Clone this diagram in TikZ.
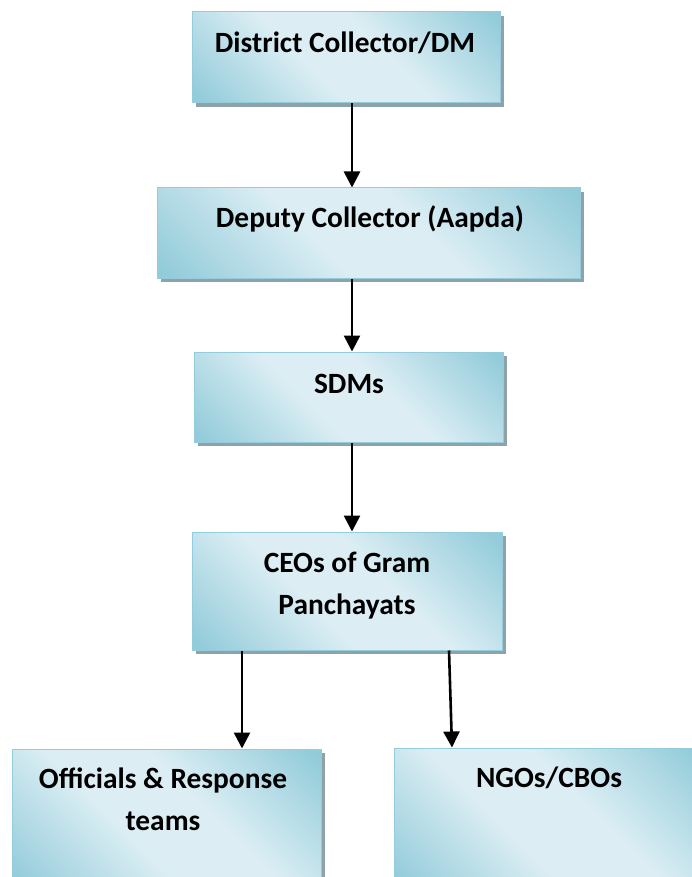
\documentclass[tikz,border=0pt]{standalone}
\usepackage{fontspec}
\setmainfont{Carlito}
\usetikzlibrary{arrows.meta,shadows}

\definecolor{bdark}{HTML}{92CBDA}
\definecolor{blight}{HTML}{DCEEF4}
\definecolor{bedge}{HTML}{93CDDD}
\definecolor{shadowgray}{HTML}{8EA2A8}

% diagonal fill: darker toward the top-right and bottom-left corners,
% with a broad pale band between them
\pgfdeclareverticalshading{boxfill}{100bp}{%
  color(0bp)=(bdark); color(16bp)=(bdark); color(42bp)=(blight);
  color(58bp)=(blight); color(84bp)=(bdark); color(100bp)=(bdark)}

\tikzset{
  orgbox/.style={rectangle, draw=bedge, line width=1pt, shading=boxfill,
    shading angle=-45, inner sep=0pt,
    drop shadow={shadow xshift=4pt, shadow yshift=-4pt, fill=shadowgray, opacity=1}},
  boxtext/.style={anchor=base, align=center, inner sep=0pt,
    font=\fontsize{29.4}{42}\selectfont\bfseries},
  arr/.style={line width=2.6pt, -{Triangle[width=16pt,length=16pt]}}
}

\begin{document}
\begin{tikzpicture}[x=1pt, y=-1pt]
  \useasboundingbox (0,0) rectangle (691,877);

  % boxes
  \node[orgbox, minimum width=308, minimum height=91] (b1) at (346,57.5) {};
  \node[orgbox, minimum width=423, minimum height=90] (b2) at (368.5,233) {};
  \node[orgbox, minimum width=309, minimum height=90] (b3) at (348.5,397) {};
  \node[orgbox, minimum width=310, minimum height=118] (b4) at (347,591) {};
  \node[orgbox, minimum width=309, minimum height=141] (b5) at (166.5,819.5) {};
  \node[orgbox, minimum width=310, minimum height=142] (b6) at (549,819) {};

  % labels (base anchor sits on the last line)
  \node[boxtext] (t1) at (345,53) {District Collector/DM};
  \node[boxtext] (t2) at (370,228) {Deputy Collector (Aapda)};
  \node[boxtext] (t3) at (349,393) {SDMs};
  \node[boxtext] (t4) at (347,614) {CEOs of Gram\\Panchayats};
  \node[boxtext] (t5) at (163,830) {Officials \& Response\\teams};
  \node[boxtext] (t6) at (549,787) {NGOs/CBOs};

  % connectors
  \draw[arr] ([xshift=6pt]b1.south) -- ([xshift=-16.5pt]b2.north);
  \draw[arr] ([xshift=-16.5pt]b2.south) -- ([xshift=3.5pt]b3.north);
  \draw[arr] ([xshift=3.5pt]b3.south) -- ([xshift=5pt]b4.north);
  \draw[arr] ([xshift=-105pt]b4.south) -- ([xshift=75.5pt]b5.north);
  \draw[arr] ([xshift=102pt]b4.south) -- ([xshift=-97pt]b6.north);
\end{tikzpicture}
\end{document}
